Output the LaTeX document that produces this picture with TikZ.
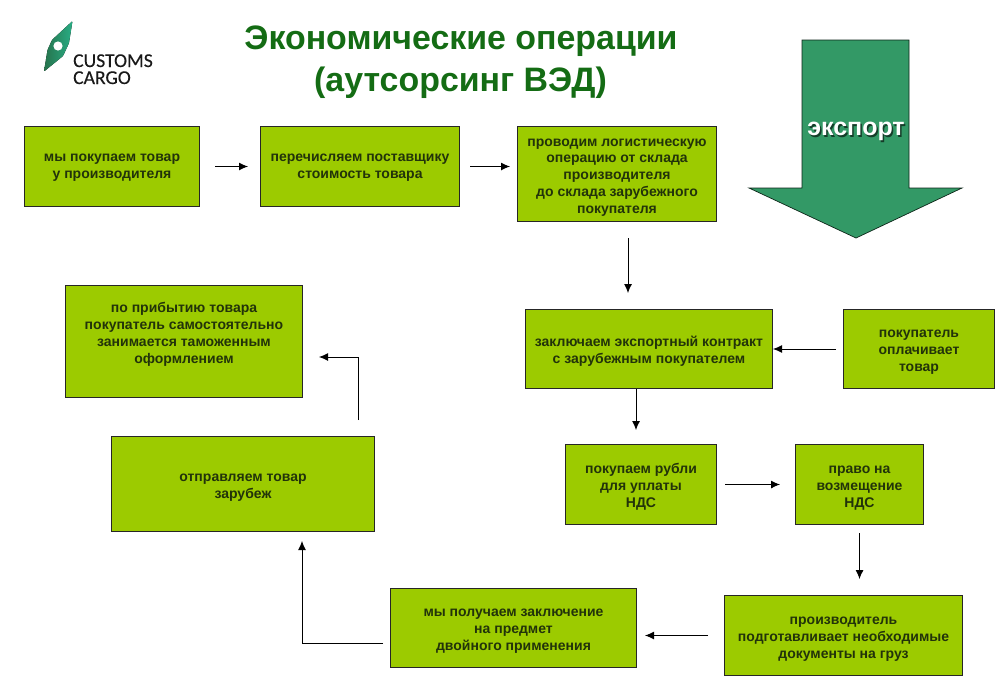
\documentclass[tikz,border=0pt]{standalone}
\usepackage{fontspec}
\setmainfont{Liberation Sans}
\newfontfamily\logofont[FakeBold=0.25]{Carlito}
\usetikzlibrary{arrows.meta,calc}
\definecolor{boxgreen}{HTML}{9CCB00}
\definecolor{arrowgreen}{HTML}{339966}
\definecolor{titlegreen}{HTML}{146C14}
\definecolor{boxtext}{HTML}{22330A}
\tikzset{
 x=1pt,y=-1pt,
 boxn/.style={draw=black!85,line width=0.9pt,fill=boxgreen,inner sep=0pt,align=center,text=boxtext,
   font=\bfseries\fontsize{14}{16.9}\selectfont},
 arr/.style={draw=black,line width=0.9pt,-{Latex[length=9pt,width=8pt]}},
 logotext/.style={font=\logofont\fontsize{19.6}{20}\selectfont,anchor=base west,inner sep=0pt,text=black!90},
 titletext/.style={font=\bfseries\fontsize{33.9}{33.9}\selectfont,text=titlegreen,inner sep=0pt,anchor=base},
 exptext/.style={font=\bfseries\fontsize{25}{25}\selectfont,inner sep=0pt},
}
\newcommand{\boxat}[6]{\node[boxn,minimum width=#4-#3-0.9,minimum height=#6-#5-0.9] (#1) at ({(#3+#4)/2},{(#5+#6)/2}) {\rule{0pt}{14.5pt}#2};}
\begin{document}
\begin{tikzpicture}
\useasboundingbox (0,0) rectangle (1003,680);
% logo
\fill[left color=arrowgreen!75!black,right color=arrowgreen!80!cyan,rounded corners=1pt] (72.5,21) -- (52,40) -- (47.5,50) -- (44,71.5) -- (63,56) -- (69,43) -- cycle;
\fill[white] (58,46) circle (4.6);
\node[logotext] (logoa) at (73,67) {CUSTOMS};
\node[logotext] (logob) at (73,84) {CARGO};
% title
\node[titletext] (t1) at (461,49.5) {Экономические операции};
\node[titletext] (t2) at (460.5,91.5) {(аутсорсинг ВЭД)};
% big arrow
\draw[fill=arrowgreen,draw=black!75!arrowgreen,line width=0.7pt,line join=miter] (802,40) -- (909,40) -- (909,188) -- (962,188) -- (856,238) -- (749,188) -- (802,188) -- cycle;
\node[exptext,text=black!60!arrowgreen] (exps) at (857.5,133.5) {экспорт};
\node[exptext,text=white] (exp) at (856,131.5) {экспорт};
% boxes
\boxat{b1}{мы покупаем товар\\ у производителя\rule[-8pt]{0pt}{0pt}}{24}{200}{126}{207}
\boxat{b2}{перечисляем поставщику\\стоимость товара\rule[-8pt]{0pt}{0pt}}{260}{460}{126}{207}
\boxat{b3}{проводим логистическую\\операцию от склада\\производителя\\до склада зарубежного\\покупателя}{517}{717}{126}{222}
\boxat{b4}{заключаем экспортный контракт\\с зарубежным покупателем}{525}{773}{309}{389}
\boxat{b5}{покупатель\\оплачивает\\товар}{843}{995}{309}{389}
\boxat{b6}{покупаем рубли\\для уплаты\\НДС}{565}{717}{444}{525}
\boxat{b7}{право на\\возмещение\\НДС}{795}{924}{444}{525}
\boxat{b8}{производитель\\подготавливает необходимые\\документы на груз}{724}{963}{595}{676}
\boxat{b9}{мы получаем заключение\\на предмет\\двойного применения}{390}{637}{588}{668}
\boxat{b10}{отправляем товар\\зарубеж}{111}{375}{436}{532}
\boxat{b11}{по прибытию товара\\покупатель самостоятельно\\занимается таможенным\\оформлением\rule[-21pt]{0pt}{0pt}}{65}{303}{285}{398}
% connectors
\draw[arr,shorten <=15pt,shorten >=12pt] (b1.east) -- (b1.east -| b2.west);
\draw[arr,shorten <=10pt,shorten >=7pt] (b2.east) -- (b2.east -| b3.west);
\draw[arr,shorten <=16pt,shorten >=16pt] ([xshift=11pt]b3.south) -- ([xshift=11pt]b3.south |- b4.north);
\draw[arr,shorten <=7pt] (b5.west) -- (b4.east);
\draw[arr,shorten >=14pt] ([xshift=-13pt]b4.south) -- ([xshift=-13pt]b4.south |- b6.north);
\draw[arr,shorten <=8pt,shorten >=15pt] (b6.east) -- (b7.west);
\draw[arr,shorten <=8pt,shorten >=16pt] (b7.south) -- (b7.south |- b8.north);
\draw[arr,shorten <=16pt,shorten >=8pt] (b8.west) -- (b8.west -| b9.east);
\draw[arr,shorten <=7pt,shorten >=9pt] ([yshift=-15pt]b9.west) -| ([xshift=59pt]b10.south);
\draw[arr,shorten <=16pt,shorten >=16pt] ([xshift=115pt]b10.north) |- ([yshift=-15.5pt]b11.east);
\end{tikzpicture}
\end{document}
